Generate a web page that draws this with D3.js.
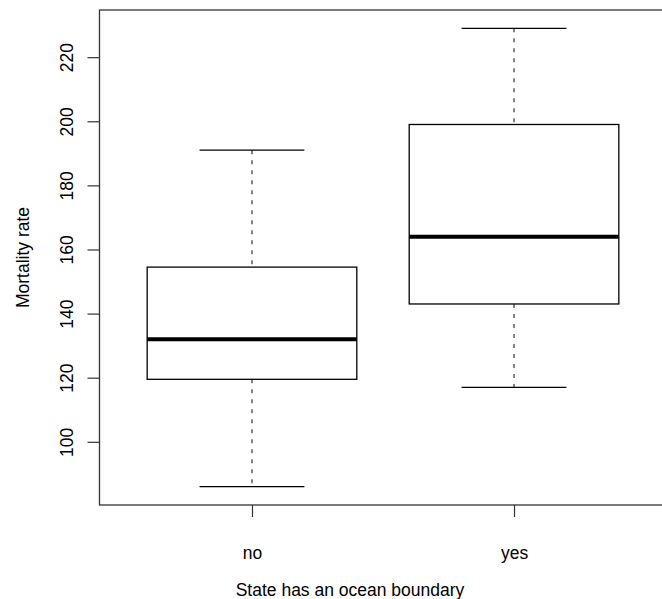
<!DOCTYPE html>
<html>
<head>
<meta charset="utf-8">
<script src="https://cdn.jsdelivr.net/npm/d3@7"></script>
<style>
  html, body { margin: 0; padding: 0; background: #fff; }
  svg { display: block; font-family: "Liberation Sans", Arial, Helvetica, sans-serif; }
</style>
</head>
<body>
<svg id="chart" width="662" height="599"></svg>
<script>
// Five-number summaries per group
const categories = ["no", "yes"];
const lowerWhisker = [86, 117];
const lowerQuartile = [119.5, 143];
const medians = [132, 164];
const upperQuartile = [154.5, 199];
const upperWhisker = [191, 229];
const yTicks = [100, 120, 140, 160, 180, 200, 220];

const svg = d3.select("#chart");
const fontSize = 17.5;

// Ranges padded by 4% as in base graphics
const lo = d3.min(lowerWhisker), hi = d3.max(upperWhisker);
const pad = (hi - lo) * 0.04;
const y = d3.scaleLinear().domain([lo - pad, hi + pad]).range([505, 10]);
const xPad = (categories.length) * 0.04;
const x = d3.scaleLinear().domain([0.5 - xPad, categories.length + 0.5 + xPad]).range([100, 666]);

const boxHalf = 0.4, stapleHalf = 0.2;

// plot frame
svg.append("rect")
  .attr("x", x.range()[0] - 0.5).attr("y", y.range()[1])
  .attr("width", x.range()[1] - x.range()[0]).attr("height", y.range()[0] - y.range()[1])
  .attr("fill", "none").attr("stroke", "#333").attr("stroke-width", 1.3);

// y axis
const yAxis = svg.append("g").attr("transform", `translate(${x.range()[0] - 0.5},0)`)
  .call(d3.axisLeft(y).tickValues(yTicks).tickSize(12).tickFormat(d3.format("d")));
yAxis.select(".domain").remove();
yAxis.selectAll(".tick line").attr("stroke", "#333").attr("stroke-width", 1.2);
yAxis.selectAll(".tick text")
  .attr("x", 0).attr("dy", null)
  .attr("transform", "translate(-27,0) rotate(-90)")
  .attr("text-anchor", "middle")
  .attr("font-size", fontSize).attr("fill", "#000");

// x axis
const xAxis = svg.append("g").attr("transform", `translate(0,${y.range()[0]})`)
  .call(d3.axisBottom(x).tickValues(categories.map((d, i) => i + 1)).tickSize(12)
    .tickFormat((d) => categories[d - 1]));
xAxis.select(".domain").remove();
xAxis.selectAll(".tick line").attr("stroke", "#333").attr("stroke-width", 1.2);
xAxis.selectAll(".tick text")
  .attr("y", 54).attr("dy", null)
  .attr("font-size", fontSize).attr("fill", "#000");

// boxes
const groups = svg.append("g").selectAll("g").data(categories).join("g");
groups.each(function (d, i) {
  const g = d3.select(this);
  const cx = x(i + 1);
  // whiskers
  g.append("line").attr("x1", cx).attr("x2", cx)
    .attr("y1", y(upperWhisker[i])).attr("y2", y(upperQuartile[i]))
    .attr("stroke", "#333").attr("stroke-width", 1.2).attr("stroke-dasharray", "4,6");
  g.append("line").attr("x1", cx).attr("x2", cx)
    .attr("y1", y(lowerQuartile[i])).attr("y2", y(lowerWhisker[i]))
    .attr("stroke", "#333").attr("stroke-width", 1.2).attr("stroke-dasharray", "4,6");
  // staples
  [upperWhisker[i], lowerWhisker[i]].forEach(v => {
    g.append("line")
      .attr("x1", x(i + 1 - stapleHalf)).attr("x2", x(i + 1 + stapleHalf))
      .attr("y1", y(v)).attr("y2", y(v))
      .attr("stroke", "#000").attr("stroke-width", 1.3);
  });
  // box
  g.append("rect")
    .attr("x", x(i + 1 - boxHalf)).attr("width", x(i + 1 + boxHalf) - x(i + 1 - boxHalf))
    .attr("y", y(upperQuartile[i])).attr("height", y(lowerQuartile[i]) - y(upperQuartile[i]))
    .attr("fill", "#fff").attr("stroke", "#000").attr("stroke-width", 1.3);
  // median
  g.append("line")
    .attr("x1", x(i + 1 - boxHalf)).attr("x2", x(i + 1 + boxHalf))
    .attr("y1", y(medians[i])).attr("y2", y(medians[i]))
    .attr("stroke", "#000").attr("stroke-width", 4);
});

// axis titles
svg.append("text")
  .attr("x", 350).attr("y", 596)
  .attr("text-anchor", "middle").attr("font-size", fontSize)
  .text("State has an ocean boundary");
svg.append("text")
  .attr("transform", `translate(29,${(y.range()[0] + y.range()[1]) / 2}) rotate(-90)`)
  .attr("text-anchor", "middle").attr("font-size", fontSize)
  .text("Mortality rate");
</script>
</body>
</html>
